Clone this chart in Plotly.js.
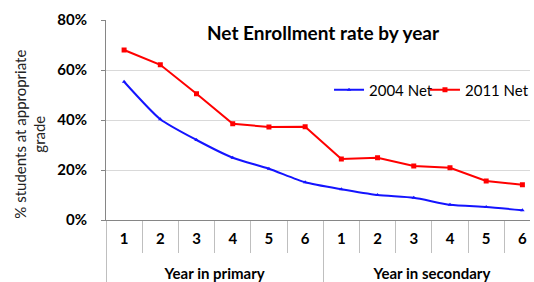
<!DOCTYPE html>
<html>
<head>
<meta charset="utf-8">
<script src="https://cdn.plot.ly/plotly-3.0.1.min.js"></script>
<style>html,body{margin:0;padding:0;background:#fff;}#chart{width:534px;height:282px;}</style>
</head>
<body>
<div id="chart"></div>
<script>
const groups = ['Year in primary','Year in primary','Year in primary','Year in primary','Year in primary','Year in primary',
                'Year in secondary','Year in secondary','Year in secondary','Year in secondary','Year in secondary','Year in secondary'];
const years = ['1','2','3','4','5','6','1','2','3','4','5','6'];
const net2004 = [55.3, 40.3, 32.0, 24.9, 20.5, 15.1, 12.3, 10.0, 8.9, 6.1, 5.2, 3.9];
const net2011 = [68.0, 62.1, 50.5, 38.5, 37.2, 37.3, 24.4, 24.9, 21.6, 20.9, 15.6, 14.1];
const seriesNames = ['2004 Net', '2011 Net'];
const yTicks = [0, 20, 40, 60, 80];
const yTickText = yTicks.map(v => v + '%');
const groupLabels = groups.map(g => '<br>' + g);

const font = 'Lato, "Open Sans", sans-serif';

const traces = [
  {
    x: [groupLabels, years], y: net2004, name: seriesNames[0], type: 'scatter', mode: 'lines+markers',
    line: {color: '#1414ff', width: 2, shape: 'spline', smoothing: 0.6},
    marker: {symbol: 'triangle-up', size: 4, color: '#1414ff'},
    legend: 'legend'
  },
  {
    x: [groupLabels, years], y: net2011, name: seriesNames[1], type: 'scatter', mode: 'lines+markers',
    line: {color: '#ff0000', width: 2},
    marker: {symbol: 'square', size: 5, color: '#ff0000'},
    legend: 'legend2'
  }
];

const legendBase = {orientation: 'h', xanchor: 'left', y: 0.65, yanchor: 'middle',
  font: {family: font, size: 15, color: '#000'}, bgcolor: 'rgba(0,0,0,0)', itemwidth: 30, borderwidth: 0};

const layout = {
  width: 534, height: 282,
  margin: {l: 106, r: 0, t: 20, b: 62},
  paper_bgcolor: '#fff', plot_bgcolor: '#fff',
  font: {family: font, color: '#000', size: 14},
  showlegend: true,
  legend: Object.assign({}, legendBase, {x: 0.526}),
  legend2: Object.assign({}, legendBase, {x: 0.7523}),
  annotations: [
    {
      text: '<b>Net Enrollment rate by year</b>', xref: 'paper', yref: 'paper',
      x: 0.514, y: 0.935, xanchor: 'center', yanchor: 'middle', showarrow: false,
      font: {family: font, size: 19, color: '#000'}
    },
    {
      text: '% students at appropriate<br>grade', xref: 'paper', yref: 'paper',
      x: -0.18, y: 0.43, xanchor: 'center', yanchor: 'middle', showarrow: false,
      textangle: -90, align: 'center',
      font: {family: font, size: 15, color: '#222'}
    }
  ],
  xaxis: {
    type: 'multicategory', range: [-0.5, 11.21],
    showline: true, linecolor: '#868686', linewidth: 1,
    ticks: 'outside', tickson: 'boundaries', ticklen: 32, tickcolor: '#bfbfbf', tickwidth: 1,
    ticklabelstandoff: 5,
    showdividers: true, dividercolor: '#bfbfbf', dividerwidth: 1,
    showgrid: false, zeroline: false,
    tickfont: {family: font, size: 15, color: '#000', weight: 'bold'}
  },
  yaxis: {
    range: [0, 80], tickvals: yTicks, ticktext: yTickText,
    showline: true, linecolor: '#868686', linewidth: 1,
    ticks: 'outside', ticklen: 4, tickcolor: '#868686',
    ticklabelstandoff: 11,
    showgrid: true, gridcolor: '#d9d9d9', gridwidth: 1, zeroline: false,
    tickfont: {family: font, size: 15, color: '#000', weight: 'bold'}
  }
};

Plotly.newPlot('chart', traces, layout, {staticPlot: true, displayModeBar: false});
</script>
</body>
</html>
